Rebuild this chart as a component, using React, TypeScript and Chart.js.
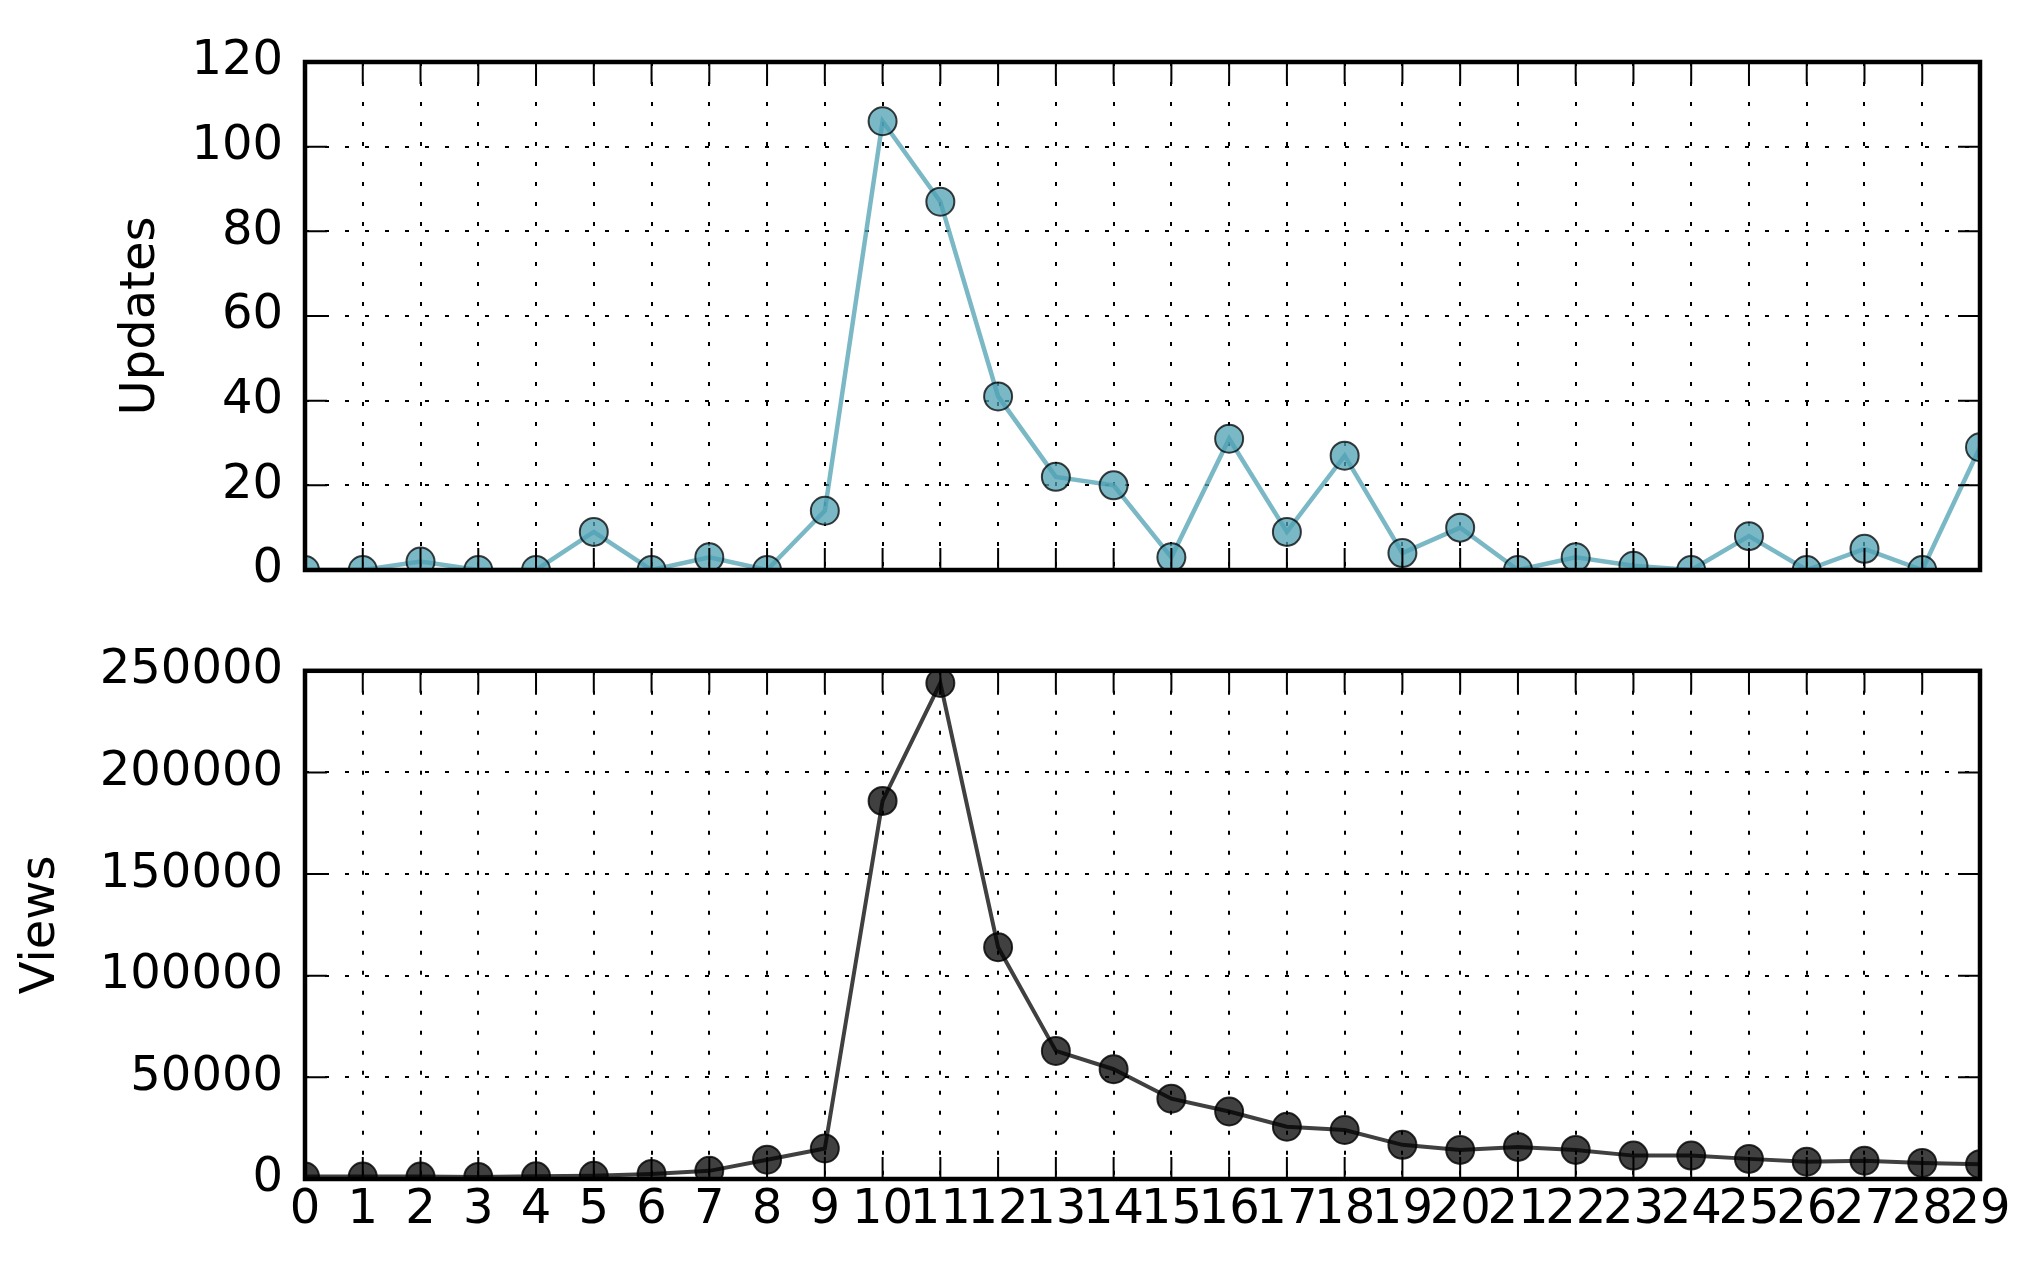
import React, { useEffect, useRef } from 'react';
import { Chart, registerables } from 'chart.js';

Chart.register(...registerables);

const categories = ['0', '1', '2', '3', '4', '5', '6', '7', '8', '9', '10', '11', '12', '13', '14', '15', '16', '17', '18', '19', '20', '21', '22', '23', '24', '25', '26', '27', '28', '29'];
const updates = [0, 0, 2, 0, 0, 9, 0, 3, 0, 14, 106, 87, 41, 22, 20, 3, 31, 9, 27, 4, 10, 0, 3, 1, 0, 8, 0, 5, 0, 29];
const views = [1200, 1200, 1200, 1000, 1300, 1600, 2500, 4000, 9500, 15000, 186000, 244000, 114000, 63000, 54000, 39500, 33200, 25700, 24100, 16800, 14300, 15800, 14300, 11500, 11500, 9900, 8500, 9000, 7900, 7300];
const updatesAxis = { min: 0, max: 120, step: 20 };
const viewsAxis = { min: 0, max: 250000, step: 50000 };

const FONT = "'DejaVu Sans', 'Liberation Sans', sans-serif";

const framePlugin = {
  id: 'mplFrame',
  afterDatasetsDraw(chart: any) {
    const { ctx, chartArea: a, scales } = chart;
    const xs = scales.x;
    const ys = scales.y;
    const tl = 22;
    ctx.save();
    ctx.strokeStyle = '#000';
    ctx.lineWidth = 2;
    ctx.beginPath();
    xs.ticks.forEach((_t: any, i: number) => {
      const px = xs.getPixelForTick(i);
      ctx.moveTo(px, a.top);
      ctx.lineTo(px, a.top + tl);
      ctx.moveTo(px, a.bottom);
      ctx.lineTo(px, a.bottom - tl);
    });
    ys.ticks.forEach((_t: any, i: number) => {
      const py = ys.getPixelForTick(i);
      ctx.moveTo(a.left, py);
      ctx.lineTo(a.left + tl, py);
      ctx.moveTo(a.right, py);
      ctx.lineTo(a.right - tl, py);
    });
    ctx.stroke();
    ctx.lineWidth = 4.5;
    ctx.strokeRect(a.left, a.top, a.right - a.left, a.bottom - a.top);
    ctx.restore();
  },
};

function makeConfig(opts: {
  data: number[];
  axis: { min: number; max: number; step: number };
  title: string;
  titlePad: number;
  lineColor: string;
  pointFill: string;
  pointEdge: string;
  lineWidth: number;
  showX: boolean;
  padding: { top: number; right: number; bottom: number; left: number };
  xHeight: number;
}): any {
  return {
    type: 'line',
    data: {
      labels: categories,
      datasets: [
        {
          data: opts.data,
          borderColor: opts.lineColor,
          borderWidth: opts.lineWidth,
          backgroundColor: opts.pointFill,
          pointBackgroundColor: opts.pointFill,
          pointBorderColor: opts.pointEdge,
          pointBorderWidth: 2,
          pointRadius: 14,
          pointHoverRadius: 14,
          tension: 0,
          fill: false,
          clip: 0,
        },
      ],
    },
    options: {
      animation: false,
      responsive: false,
      devicePixelRatio: 1,
      events: [],
      layout: { padding: opts.padding },
      plugins: {
        legend: { display: false },
        tooltip: { enabled: false },
        title: { display: false },
      },
      scales: {
        x: {
          type: 'category',
          offset: false,
          border: { display: false, dash: [4, 16] },
          grid: {
            display: true,
            drawTicks: false,
            color: '#000',
            lineWidth: 2,
          },
          ticks: {
            display: opts.showX,
            autoSkip: false,
            maxRotation: 0,
            minRotation: 0,
            padding: 3,
            color: '#000',
            font: { family: FONT, size: 48 },
          },
          afterFit: (s: any) => {
            s.height = opts.xHeight;
          },
        },
        y: {
          type: 'linear',
          min: opts.axis.min,
          max: opts.axis.max,
          border: { display: false, dash: [4, 16] },
          grid: {
            display: true,
            drawTicks: false,
            color: '#000',
            lineWidth: 2,
          },
          ticks: {
            stepSize: opts.axis.step,
            padding: 22,
            color: '#000',
            font: { family: FONT, size: 48 },
            callback: (v: any) => String(v),
          },
          title: {
            display: true,
            text: opts.title,
            color: '#000',
            font: { family: FONT, size: 48 },
            padding: { top: opts.titlePad, bottom: 0 },
          },
          afterFit: (s: any) => {
            s.width = 305;
          },
        },
      },
    },
    plugins: [framePlugin],
  };
}

export default function App() {
  const topRef = useRef<HTMLCanvasElement | null>(null);
  const botRef = useRef<HTMLCanvasElement | null>(null);

  useEffect(() => {
    const topCfg = makeConfig({
      data: updates,
      axis: updatesAxis,
      title: 'Updates',
      titlePad: 113,
      lineColor: 'rgba(78,160,179,0.75)',
      pointFill: 'rgba(78,160,179,0.75)',
      pointEdge: 'rgba(0,0,0,0.75)',
      lineWidth: 4.5,
      showX: false,
      padding: { top: 62, right: 54, bottom: 70, left: 0 },
      xHeight: 0,
    });
    const botCfg = makeConfig({
      data: views,
      axis: viewsAxis,
      title: 'Views',
      titlePad: 13,
      lineColor: 'rgba(0,0,0,0.75)',
      pointFill: 'rgba(0,0,0,0.75)',
      pointEdge: 'rgba(0,0,0,0.8)',
      lineWidth: 4,
      showX: true,
      padding: { top: 50, right: 54, bottom: 0, left: 0 },
      xHeight: 91,
    });
    const c1 = new Chart(topRef.current as HTMLCanvasElement, topCfg);
    const c2 = new Chart(botRef.current as HTMLCanvasElement, botCfg);
    return () => {
      c1.destroy();
      c2.destroy();
    };
  }, []);

  return (
    <div style={{ position: 'fixed', left: 0, top: 0, width: 2034, height: 1270, background: '#fff' }}>
      <canvas ref={topRef} width={2034} height={640} style={{ position: 'absolute', left: 0, top: 0 }} />
      <canvas ref={botRef} width={2034} height={650} style={{ position: 'absolute', left: 0, top: 620 }} />
    </div>
  );
}
